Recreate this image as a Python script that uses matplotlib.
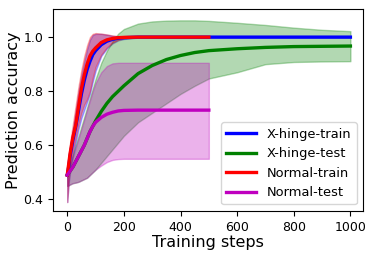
import matplotlib
matplotlib.use('Agg')
import matplotlib.pyplot as plt

# X-hinge runs, 0..1000 steps
steps_xh = [0, 5, 10, 20, 30, 40, 50, 60, 70, 80, 90, 100, 120, 140, 160, 180, 200,
            250, 300, 350, 400, 450, 500, 600, 700, 800, 900, 1000]
xh_train = [0.49, 0.52, 0.56, 0.62, 0.67, 0.73, 0.79, 0.84, 0.88, 0.91, 0.935, 0.95, 0.972, 0.985, 0.992, 0.996, 0.998,
            1.0, 1.0, 1.0, 1.0, 1.0, 1.0, 1.0, 1.0, 1.0, 1.0, 1.0]
xh_train_lo = [0.39, 0.46, 0.50, 0.56, 0.61, 0.66, 0.70, 0.73, 0.76, 0.79, 0.835, 0.875, 0.93, 0.958, 0.977, 0.988, 0.993,
               0.998, 1.0, 1.0, 1.0, 1.0, 1.0, 1.0, 1.0, 1.0, 1.0, 1.0]
xh_train_hi = [0.49, 0.54, 0.59, 0.66, 0.73, 0.80, 0.86, 0.91, 0.955, 0.99, 1.008, 1.012, 1.012, 1.009, 1.005, 1.003, 1.001,
               1.0, 1.0, 1.0, 1.0, 1.0, 1.0, 1.0, 1.0, 1.0, 1.0, 1.0]
xh_test = [0.49, 0.497, 0.505, 0.52, 0.54, 0.56, 0.58, 0.60, 0.625, 0.65, 0.67, 0.69, 0.725, 0.755, 0.78, 0.80, 0.82,
           0.865, 0.895, 0.917, 0.932, 0.943, 0.95, 0.957, 0.962, 0.965, 0.966, 0.967]
xh_test_lo = [0.45, 0.452, 0.455, 0.46, 0.462, 0.465, 0.47, 0.475, 0.48, 0.49, 0.50, 0.51, 0.535, 0.56, 0.585, 0.61, 0.635,
              0.685, 0.72, 0.755, 0.79, 0.82, 0.847, 0.87, 0.90, 0.908, 0.91, 0.911]
xh_test_hi = [0.49, 0.51, 0.53, 0.565, 0.60, 0.635, 0.67, 0.705, 0.74, 0.775, 0.81, 0.845, 0.905, 0.95, 0.985, 1.013, 1.03,
              1.05, 1.058, 1.061, 1.062, 1.062, 1.06, 1.053, 1.045, 1.035, 1.027, 1.022]

# Normal runs, 0..500 steps
steps_n = [0, 5, 10, 20, 30, 40, 50, 60, 70, 80, 90, 100, 120, 140, 160, 180, 200,
           250, 300, 350, 400, 450, 500]
n_train = [0.49, 0.53, 0.57, 0.63, 0.675, 0.745, 0.81, 0.86, 0.90, 0.93, 0.948, 0.96, 0.98, 0.99, 0.995, 0.998, 0.999,
           1.0, 1.0, 1.0, 1.0, 1.0, 1.0]
n_train_lo = [0.39, 0.47, 0.52, 0.58, 0.63, 0.68, 0.72, 0.75, 0.77, 0.80, 0.85, 0.89, 0.935, 0.962, 0.98, 0.99, 0.995,
              0.999, 1.0, 1.0, 1.0, 1.0, 1.0]
n_train_hi = [0.50, 0.56, 0.61, 0.68, 0.75, 0.82, 0.88, 0.93, 0.97, 1.0, 1.012, 1.015, 1.013, 1.01, 1.006, 1.003, 1.001,
              1.0, 1.0, 1.0, 1.0, 1.0, 1.0]
n_test = [0.49, 0.497, 0.505, 0.52, 0.54, 0.56, 0.58, 0.60, 0.625, 0.65, 0.67, 0.685, 0.703, 0.715, 0.722, 0.727, 0.729,
          0.73, 0.73, 0.73, 0.73, 0.73, 0.73]
n_test_lo = [0.45, 0.452, 0.455, 0.46, 0.462, 0.465, 0.47, 0.475, 0.48, 0.49, 0.50, 0.51, 0.525, 0.538, 0.546, 0.549, 0.55,
             0.55, 0.55, 0.55, 0.55, 0.55, 0.55]
n_test_hi = [0.49, 0.505, 0.52, 0.555, 0.59, 0.625, 0.66, 0.695, 0.73, 0.765, 0.80, 0.83, 0.87, 0.893, 0.903, 0.905, 0.905,
             0.905, 0.905, 0.905, 0.905, 0.905, 0.905]

series = [
    ('X-hinge-train', 'b', steps_xh, xh_train, xh_train_lo, xh_train_hi),
    ('X-hinge-test', 'g', steps_xh, xh_test, xh_test_lo, xh_test_hi),
    ('Normal-train', 'r', steps_n, n_train, n_train_lo, n_train_hi),
    ('Normal-test', 'm', steps_n, n_test, n_test_lo, n_test_hi),
]

fig = plt.figure(figsize=(3.74, 2.57), dpi=100)
ax = fig.add_axes([0.142, 0.179, 0.829, 0.786])

for name, c, xs, mean, lo, hi in series:
    ax.plot(xs, mean, color=c, lw=2.4, label=name)
    ax.fill_between(xs, lo, hi, color=c, alpha=0.3)

ax.set_xlim(-50, 1045)
ax.set_ylim(0.357, 1.104)
ax.set_xticks([0, 200, 400, 600, 800, 1000])
ax.set_yticks([0.4, 0.6, 0.8, 1.0])
ax.tick_params(labelsize=9)
ax.set_xlabel('Training steps', fontsize=11.5, labelpad=1)
ax.set_ylabel('Prediction accuracy', fontsize=11.5, labelpad=2)
ax.legend(loc='lower right', fontsize=9.4, handlelength=2.3)

fig.savefig('out.png', dpi=100)
